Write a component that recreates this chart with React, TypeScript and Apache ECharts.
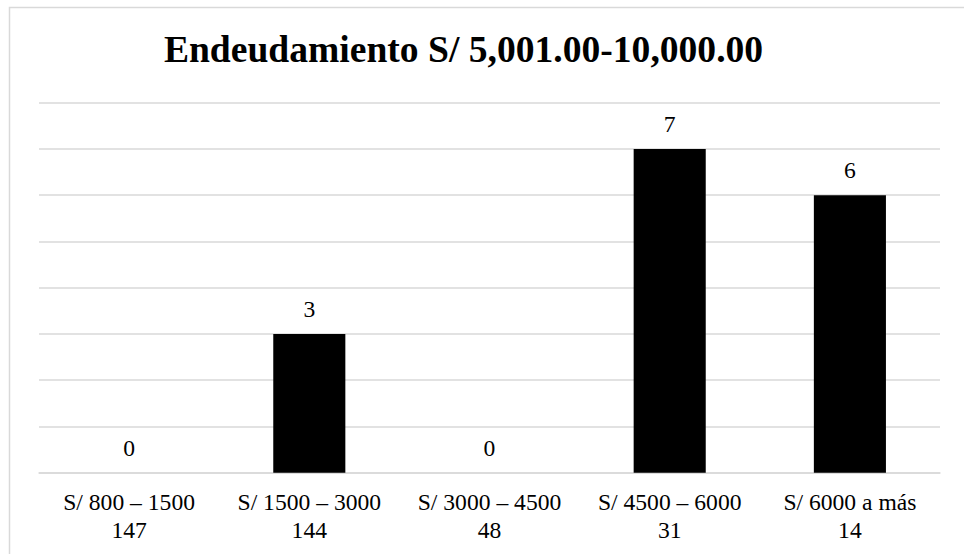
import React, { useEffect, useRef } from "react";
import * as echarts from "echarts";

const titleText = "Endeudamiento S/ 5,001.00-10,000.00";
const categories = [
  "S/ 800 – 1500\n147",
  "S/ 1500 – 3000\n144",
  "S/ 3000 – 4500\n48",
  "S/ 4500 – 6000\n31",
  "S/ 6000 a más\n14",
];
const values = [0, 3, 0, 7, 6];
const yMin = 0;
const yMax = 8;
const yStep = 1;

const SERIF = "Liberation Serif";

export default function App() {
  const ref = useRef<HTMLDivElement>(null);

  useEffect(() => {
    if (!ref.current) return;
    const chart = echarts.init(ref.current, undefined, { renderer: "svg" });
    chart.setOption({
      animation: false,
      backgroundColor: "#ffffff",
      textStyle: { fontFamily: SERIF },
      graphic: [
        {
          type: "rect",
          shape: { x: 9.5, y: 7.5, width: 1000, height: 600 },
          style: { fill: "none", stroke: "#d9d9d9", lineWidth: 1.5 },
          silent: true,
          z: -1,
        },
        {
          type: "text",
          x: 463.5,
          y: 49.5,
          style: {
            text: titleText,
            font: "bold 37.6px Liberation Serif",
            fill: "#000000",
            textAlign: "center",
            textVerticalAlign: "middle",
          },
        },
      ],
      grid: { left: 39, right: 24, top: 102.7, bottom: 81.3, containLabel: false },
      xAxis: {
        type: "category",
        data: categories,
        axisLine: { lineStyle: { color: "#d9d9d9", width: 1.5 } },
        axisTick: { show: false },
        axisLabel: {
          color: "#000000",
          fontFamily: SERIF,
          fontSize: 23.6,
          lineHeight: 27.5,
          margin: 16,
          interval: 0,
        },
      },
      yAxis: {
        type: "value",
        min: yMin,
        max: yMax,
        interval: yStep,
        axisLine: { show: false },
        axisTick: { show: false },
        axisLabel: { show: false },
        splitLine: { lineStyle: { color: "#d9d9d9", width: 1.5 } },
      },
      series: [
        {
          type: "bar",
          data: values,
          barWidth: "40%",
          itemStyle: { color: "#000000" },
          label: {
            show: true,
            position: "top",
            distance: 13,
            color: "#000000",
            fontFamily: SERIF,
            fontSize: 23.6,
          },
        },
      ],
    });
    return () => chart.dispose();
  }, []);

  return (
    <div
      ref={ref}
      style={{ position: "absolute", left: 0, top: 0, width: 964, height: 554 }}
    />
  );
}
